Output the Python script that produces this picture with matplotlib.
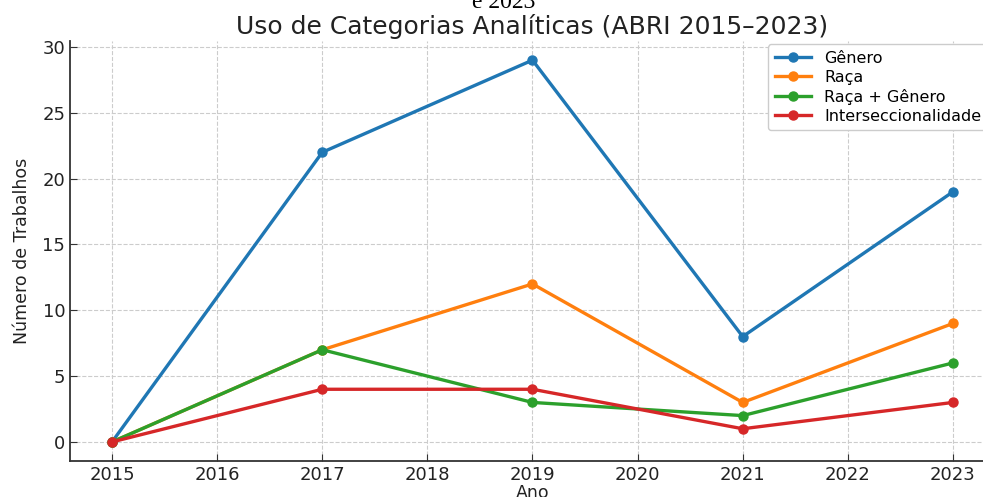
import matplotlib
matplotlib.use("Agg")
import matplotlib.pyplot as plt

anos = [2015, 2017, 2019, 2021, 2023]
genero = [0, 22, 29, 8, 19]
raca = [0, 7, 12, 3, 9]
raca_genero = [0, 7, 3, 2, 6]
interseccionalidade = [0, 4, 4, 1, 3]
series_labels = ["Gênero", "Raça", "Raça + Gênero", "Interseccionalidade"]
x_ticks = list(range(2015, 2024))
y_ticks = [0, 5, 10, 15, 20, 25, 30]

colors = ["#1f77b4", "#ff7f0e", "#2ca02c", "#d62728"]

fig = plt.figure(figsize=(9.83, 4.97), dpi=100)
ax = fig.add_axes([0.0712, 0.0724, 0.941, 0.845])

for vals, lab, c in zip([genero, raca, raca_genero, interseccionalidade], series_labels, colors):
    ax.plot(anos, vals, marker="o", color=c, linewidth=2.4, markersize=6.5, label=lab)

ax.set_xlim(2014.6, 2023.4)
ax.set_ylim(-1.45, 30.45)
ax.set_xticks(x_ticks)
ax.set_yticks(y_ticks)
ax.tick_params(direction="in", labelsize=13, colors="#333333", labelcolor="#222222", length=5)
ax.grid(True, linestyle="--", color="#cccccc", linewidth=0.8)
for s in ["top", "right"]:
    ax.spines[s].set_visible(False)
for s in ["left", "bottom"]:
    ax.spines[s].set_color("#333333")
    ax.spines[s].set_linewidth(1.3)

ax.set_title("Uso de Categorias Analíticas (ABRI 2015–2023)", fontsize=18, color="#222222", pad=5)
ax.set_ylabel("Número de Trabalhos", fontsize=12.5, color="#222222", labelpad=8)
ax.set_xlabel("Ano", fontsize=12.5, color="#222222", labelpad=0)

leg = ax.legend(loc="upper right", bbox_to_anchor=(0.992, 0.992), borderaxespad=0,
                fontsize=11.5, frameon=True, framealpha=1, edgecolor="#cccccc",
                handlelength=2.3, borderpad=0.4, labelspacing=0.25)

fig.text(0.512, 1 - 8 / 497, "e 2023", ha="center", va="baseline", fontsize=17,
         family="Liberation Serif", color="black")

fig.savefig("out.png", dpi=100)
